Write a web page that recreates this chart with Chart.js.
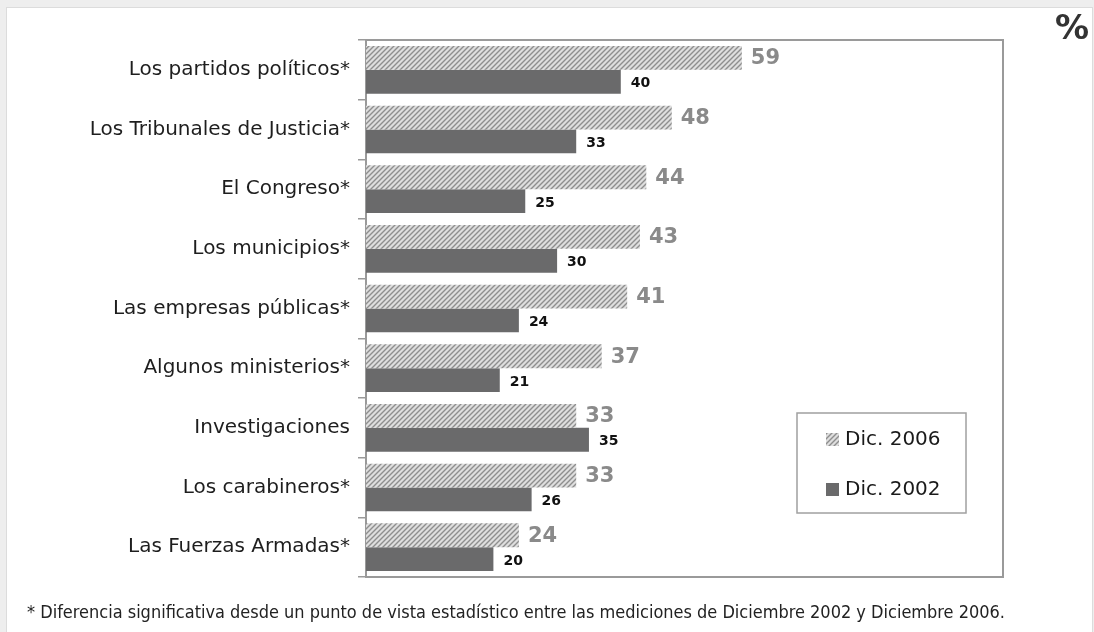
<!DOCTYPE html>
<html>
<head>
<meta charset="utf-8">
<script src="https://cdn.jsdelivr.net/npm/chart.js@4"></script>
<style>
  html, body { margin: 0; padding: 0; background: #eeeeee; }
  #wrap { position: relative; width: 1094px; height: 632px; overflow: hidden; }
  #panel { position: absolute; left: 6px; top: 7px; width: 1087px; height: 630px; background: #fff; border: 1px solid #dcdcdc; box-sizing: border-box; }
  #c { position: absolute; left: 0; top: 0; }
</style>
</head>
<body>
<div id="wrap">
  <div id="panel"></div>
  <canvas id="c" width="1094" height="632"></canvas>
</div>
<script>
const categories = [
  "Los partidos políticos*",
  "Los Tribunales de Justicia*",
  "El Congreso*",
  "Los municipios*",
  "Las empresas públicas*",
  "Algunos ministerios*",
  "Investigaciones",
  "Los carabineros*",
  "Las Fuerzas Armadas*"
];
const seriesNames = ["Dic. 2006", "Dic. 2002"];
const values2006 = [59, 48, 44, 43, 41, 37, 33, 33, 24];
const values2002 = [40, 33, 25, 30, 24, 21, 35, 26, 20];
const unitLabel = "%";
const footnote = "* Diferencia significativa desde un punto de vista estadístico entre las mediciones de Diciembre 2002 y Diciembre 2006.";

function makeHatch() {
  const t = document.createElement('canvas');
  t.width = 5; t.height = 5;
  const g = t.getContext('2d');
  g.fillStyle = '#dedede';
  g.fillRect(0, 0, 5, 5);
  g.strokeStyle = '#8e8e8e';
  g.lineWidth = 1.4;
  g.beginPath();
  g.moveTo(-1, 6); g.lineTo(6, -1);
  g.moveTo(-1, 1); g.lineTo(1, -1);
  g.moveTo(4, 6); g.lineTo(6, 4);
  g.stroke();
  return g.createPattern(t, 'repeat');
}

const ctx = document.getElementById('c').getContext('2d');
const hatch = makeHatch();
const FONT = "'DejaVu Sans', Verdana, sans-serif";

const decorPlugin = {
  id: 'decor',
  afterDatasetsDraw(chart) {
    const c = chart.ctx;
    const a = chart.chartArea;
    c.save();
    c.strokeStyle = '#9a9a9a';
    c.lineWidth = 2;
    c.beginPath();
    c.moveTo(a.left, a.top);
    c.lineTo(a.right, a.top);
    c.lineTo(a.right, a.bottom);
    c.stroke();
    chart.data.datasets.forEach((ds, di) => {
      const meta = chart.getDatasetMeta(di);
      meta.data.forEach((bar, i) => {
        const v = ds.data[i];
        c.textBaseline = 'middle';
        c.textAlign = 'left';
        if (di === 0) {
          c.font = "bold 21px " + FONT;
          c.fillStyle = '#8a8a8a';
          c.fillText(String(v), bar.x + 9, bar.y + 1);
        } else {
          c.font = "bold 14px " + FONT;
          c.fillStyle = '#111';
          c.fillText(String(v), bar.x + 10, bar.y + 2);
        }
      });
    });
    const lx = a.left + 431, ly = a.top + 373, lw = 169, lh = 100;
    c.fillStyle = '#fff';
    c.fillRect(lx, ly, lw, lh);
    c.strokeStyle = '#a0a0a0';
    c.lineWidth = 1.5;
    c.strokeRect(lx, ly, lw, lh);
    const fills = [hatch, '#6a6a6b'];
    chart.data.datasets.forEach((ds, di) => {
      const cy = ly + 26 + di * 50;
      c.fillStyle = fills[di];
      c.fillRect(lx + 29, cy - 6, 13, 13);
      c.font = "20px " + FONT;
      c.fillStyle = '#1a1a1a';
      c.textBaseline = 'middle';
      c.textAlign = 'left';
      c.fillText(ds.label, lx + 48, cy + 1);
    });
    c.font = "bold 34px " + FONT;
    c.fillStyle = '#333';
    c.textAlign = 'right';
    c.textBaseline = 'middle';
    c.fillText(unitLabel, 1089, 30);
    c.font = "18px 'DejaVu Sans Condensed', 'Liberation Sans Narrow', Arial, sans-serif";
    c.fillStyle = '#222';
    c.textAlign = 'left';
    c.textBaseline = 'middle';
    c.fillText(footnote, 27, 613, 978);
    c.restore();
  }
};

new Chart(ctx, {
  type: 'bar',
  data: {
    labels: categories,
    datasets: [
      { label: seriesNames[0], data: values2006, backgroundColor: hatch, borderWidth: 0 },
      { label: seriesNames[1], data: values2002, backgroundColor: '#6a6a6b', borderWidth: 0 }
    ]
  },
  options: {
    indexAxis: 'y',
    responsive: false,
    animation: false,
    layout: { padding: { left: 0, top: 40, right: 91, bottom: 55 } },
    datasets: { bar: { barPercentage: 1.0, categoryPercentage: 0.8 } },
    plugins: { legend: { display: false }, tooltip: { enabled: false } },
    scales: {
      x: {
        min: 0, max: 100,
        ticks: { display: false },
        grid: { display: false, drawTicks: false },
        border: { display: true, color: '#9a9a9a', width: 2 }
      },
      y: {
        afterFit(scale) { scale.width = 366; },
        ticks: { color: '#1e1e1e', font: { family: "'DejaVu Sans', Verdana, sans-serif", size: 20 }, padding: 8 },
        grid: { drawOnChartArea: false, drawTicks: true, tickLength: 8, color: '#9a9a9a', lineWidth: 1.5, offset: true },
        border: { display: true, color: '#9a9a9a', width: 2 }
      }
    }
  },
  plugins: [decorPlugin]
});
</script>
</body>
</html>
